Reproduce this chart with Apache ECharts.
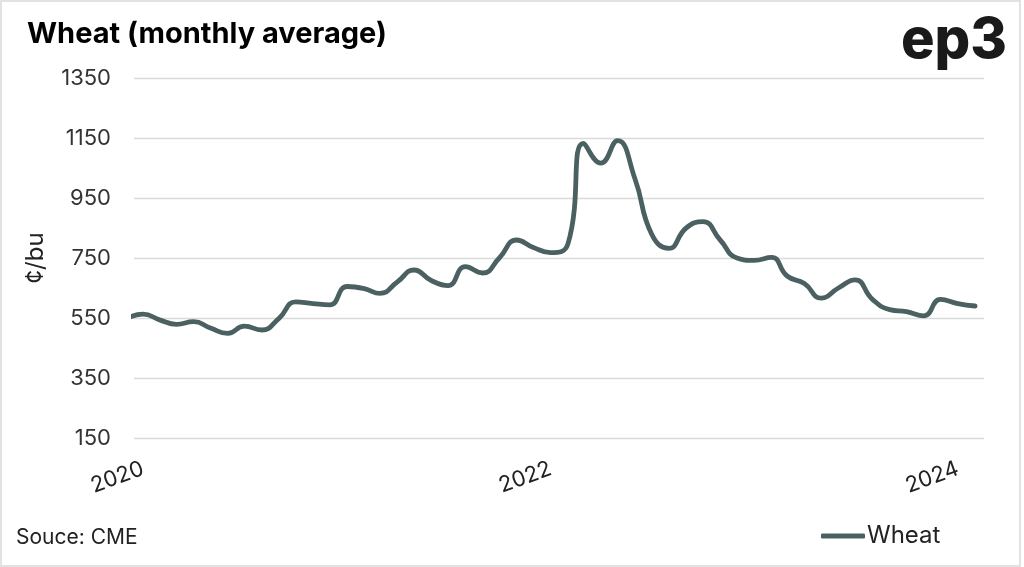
<!DOCTYPE html>
<html>
<head>
<meta charset="utf-8">
<script src="https://cdn.jsdelivr.net/npm/echarts@6/dist/echarts.min.js"></script>
<style>
  html, body { margin: 0; padding: 0; background: #fff; }
  #chart { position: absolute; left: 0; top: 0; width: 1024px; height: 567px; }
  #frame { position: absolute; left: 0; top: 0; width: 1017px; height: 563px; border: 2px solid #e2e2e2; pointer-events: none; }
</style>
</head>
<body>
<div id="chart"></div>
<div id="frame"></div>
<script>
// Monthly average CME wheat, cents per bushel (Dec 2019 point is clipped at the axis start)
const months = [
  '2019-12',
  '2020-01','2020-02','2020-03','2020-04','2020-05','2020-06','2020-07','2020-08','2020-09','2020-10','2020-11','2020-12',
  '2021-01','2021-02','2021-03','2021-04','2021-05','2021-06','2021-07','2021-08','2021-09','2021-10','2021-11','2021-12',
  '2022-01','2022-02','2022-03','2022-04','2022-05','2022-06','2022-07','2022-08','2022-09','2022-10','2022-11','2022-12',
  '2023-01','2023-02','2023-03','2023-04','2023-05','2023-06','2023-07','2023-08','2023-09','2023-10','2023-11','2023-12',
  '2024-01','2024-02'
];
const wheat = [
  545,
  563, 543, 529, 538, 517, 499, 523, 510, 549, 604, 598, 594,
  655, 648, 632, 670, 710, 675, 658, 721, 700, 750, 810, 785,
  768, 797, 1132, 1066, 1141, 1015, 830, 782, 850, 871, 810, 750,
  742, 752, 690, 665, 616, 650, 677, 612, 578, 571, 557, 612,
  598, 590
];
const yearTicks = ['2020', '2022', '2024'];
const axisStart = '2019-12-16';
const axisEnd = '2024-02-17';

function ts(s) {
  const p = s.split('-').map(Number);
  return Date.UTC(p[0], (p[1] || 1) - 1, p[2] || 1);
}
const seriesData = months.map((m, i) => [ts(m), wheat[i]]);
const font = 'Inter, "Noto Sans", sans-serif';
const lineColor = '#4b6161';

const chart = echarts.init(document.getElementById('chart'));
chart.setOption({
  backgroundColor: '#ffffff',
  animation: false,
  title: [
    { text: 'Wheat (monthly average)', left: 27, top: 20, padding: 0,
      textStyle: { fontFamily: font, fontSize: 29, fontWeight: 'bold', color: '#000' } },
    { text: 'ep3', right: 17, top: 13, padding: 0,
      textStyle: { fontFamily: font, fontSize: 56, fontWeight: 800, color: '#1a1a1a' } },
    { text: 'Souce: CME', left: 16, top: 527, padding: 0,
      textStyle: { fontFamily: font, fontSize: 21, fontWeight: 'normal', color: '#222' } }
  ],
  legend: {
    data: ['Wheat'],
    left: 816, top: 519,
    icon: 'roundRect', itemWidth: 44, itemHeight: 5,
    textStyle: { fontFamily: font, fontSize: 24, color: '#222', padding: [0, 0, 0, -3] }
  },
  grid: { left: 134, right: 40, top: 78, bottom: 129, containLabel: false },
  xAxis: {
    type: 'value',
    min: ts(axisStart), max: ts(axisEnd),
    axisLine: { show: false },
    axisTick: { show: false },
    splitLine: { show: false },
    axisLabel: {
      customValues: yearTicks.map(y => ts(y)),
      formatter: v => String(new Date(v).getUTCFullYear()),
      rotate: 20, margin: 30,
      fontFamily: font, fontSize: 22, color: '#222'
    }
  },
  yAxis: {
    type: 'value', min: 150, max: 1350, interval: 200,
    name: '¢/bu', nameLocation: 'middle', nameGap: 86,
    nameTextStyle: { fontFamily: font, fontSize: 24, color: '#222' },
    axisLine: { show: false }, axisTick: { show: false },
    axisLabel: { margin: 23, fontFamily: font, fontSize: 22, color: '#333',
      formatter: v => String(v) },
    splitLine: { lineStyle: { color: '#dadada', width: 1.3 } }
  },
  series: [{
    name: 'Wheat', type: 'line', data: seriesData,
    smooth: 0.5, symbol: 'none', clip: true,
    lineStyle: { color: lineColor, width: 4.8, cap: 'round', join: 'round' },
    itemStyle: { color: lineColor }
  }]
});
</script>
</body>
</html>
